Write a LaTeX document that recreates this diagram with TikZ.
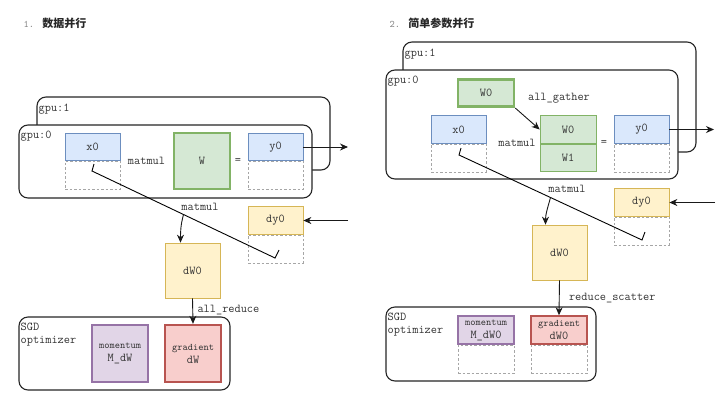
\documentclass[tikz,border=0pt]{standalone}
\usepackage{fontspec}
\newfontfamily\cjk{Noto Sans CJK SC}
\usetikzlibrary{arrows.meta,positioning}
\definecolor{actfill}{HTML}{DAE8FC}
\definecolor{actdraw}{HTML}{6C8EBF}
\definecolor{wfill}{HTML}{D5E8D4}
\definecolor{wdraw}{HTML}{82B366}
\definecolor{gfill}{HTML}{FFF2CC}
\definecolor{gdraw}{HTML}{D6B656}
\definecolor{mfill}{HTML}{E1D5E7}
\definecolor{mdraw}{HTML}{9673A6}
\definecolor{rfill}{HTML}{F8CECC}
\definecolor{rdraw}{HTML}{B85450}

\begin{document}
\begin{tikzpicture}[x=1pt,y=-1pt,
    every node/.style={font=\ttfamily\fontsize{12}{13}\selectfont, text=black!80},
    gpubox/.style={draw=black!85, line width=1.1pt, rounded corners=9pt, fill=white, inner sep=0pt},
    tensor/.style={line width=0.7pt, minimum width=55pt, minimum height=27.5pt, inner sep=0pt},
    act/.style={tensor, fill=actfill, draw=actdraw},
    wgt/.style={tensor, fill=wfill, draw=wdraw},
    grd/.style={tensor, fill=gfill, draw=gdraw},
    momb/.style={tensor, fill=mfill, draw=mdraw, line width=2.4pt, align=center},
    gradb/.style={tensor, fill=rfill, draw=rdraw, line width=2.4pt, align=center},
    shade/.style={draw=gray!70, dash pattern=on 2.5pt off 2pt, line width=0.7pt, minimum width=55pt, minimum height=28pt, inner sep=0pt},
    arr/.style={-{Stealth[length=8pt,width=7pt]}, line width=0.9pt, draw=black!90}]
  \useasboundingbox (0,0) rectangle (720,405);

  % 1. data parallel
  \node[anchor=west] (title1) at (20,23) {{\fontsize{10}{11}\selectfont\color{gray}1.} {\cjk\bfseries\fontsize{11}{13}\selectfont\color{black!85}数据并行}};
  \node[gpubox, minimum width=293pt, minimum height=73pt] (g1a) at (183.5,133.5) {};
  \node[anchor=north west, inner sep=0pt] at ([shift={(2pt,-7pt)}]g1a.north west) {gpu:1};
  \node[gpubox, minimum width=293pt, minimum height=73pt] (g0a) at (165.5,161.5) {};
  \node[anchor=north west, inner sep=0pt] at ([shift={(2pt,-6pt)}]g0a.north west) {gpu:0};
  \node[act] (x0a) at (92.5,147) {x0};
  \node[shade, below=0pt of x0a] (x0as) {};
  \node (mma) at (146.5,161) {matmul};
  \node[wgt, minimum width=56pt, minimum height=56pt, line width=2.6pt] (wa) at (202,161) {W};
  \node (eqa) at (238,161) {=};
  \node[act] (y0a) at (275.5,147) {y0};
  \node[shade, below=0pt of y0a] (y0as) {};
  \coordinate (outa) at (348,147);
  \draw[arr] (y0a.east) -- (outa);

  \node[grd] (dy0a) at (275.5,220.5) {dy0};
  \node[shade, below=0pt of dy0a] (dy0as) {};
  \coordinate (ina) at (348,220.5);
  \draw[arr] (ina) -- (dy0a.east);

  \coordinate (ta1) at (94,164);
  \coordinate (ta2) at (92,171);
  \coordinate (ta3) at (275,258);
  \coordinate (ta4) at (279,250);
  \draw[line width=0.9pt] (ta1) -- (ta2) -- (ta3) -- (ta4);
  \path (ta2) -- (ta3) coordinate[pos=0.5] (mida);
  \node (mmb) at (200,207) {matmul};

  \node[grd, minimum width=55pt, minimum height=55pt] (dwa) at (192.5,270.5) {dW0};
  \draw[arr] (mida) to[out=-105,in=90] ([xshift=-12pt]dwa.north);

  \node[gpubox, minimum width=211pt, minimum height=73pt] (opta) at (124.5,353.5) {};
  \node[anchor=north west, inner sep=0pt, align=left] at ([shift={(2pt,-6pt)}]opta.north west) {SGD\\optimizer};
  \node[momb, minimum width=56pt, minimum height=57pt] (moma) at (120,353.5) {\fontsize{10}{13}\selectfont momentum\\M\_dW};
  \node[gradb, minimum width=56pt, minimum height=57pt] (grada) at (193,353.5) {\fontsize{10}{13}\selectfont gradient\\dW};
  \draw[arr] (dwa.south) -- (grada.north) node[midway, right=1pt, yshift=1pt] {all\_reduce};

  % 2. simple parameter parallel
  \node[anchor=west] (title2) at (386,23) {{\fontsize{10}{11}\selectfont\color{gray}2.} {\cjk\bfseries\fontsize{11}{13}\selectfont\color{black!85}简单参数并行}};
  \node[gpubox, minimum width=293pt, minimum height=110pt] (g1b) at (549.5,97) {};
  \node[anchor=north west, inner sep=0pt] at ([shift={(2pt,-7pt)}]g1b.north west) {gpu:1};
  \node[gpubox, minimum width=292pt, minimum height=109pt] (g0b) at (532,124.5) {};
  \node[anchor=north west, inner sep=0pt] at ([shift={(2pt,-6pt)}]g0b.north west) {gpu:0};
  \node[wgt, minimum width=56pt, line width=2.6pt] (w0b) at (486,93) {W0};
  \node (agb) at (559,98) {all\_gather};
  \node[act] (x0b) at (458.5,129.5) {x0};
  \node[shade, below=0pt of x0b] (x0bs) {};
  \node (mmc) at (517,143) {matmul};
  \node[wgt, minimum width=56pt] (wab) at (568,129.5) {W0};
  \node[wgt, minimum width=56pt, below=0pt of wab] (wbb) {W1};
  \draw[arr] (w0b.south east) -- (wab.west);
  \node (eqb) at (604,143) {=};
  \node[act] (y0b) at (641.5,129.5) {y0};
  \node[shade, below=0pt of y0b] (y0bs) {};
  \coordinate (outb) at (714,129.5);
  \draw[arr] (y0b.east) -- (outb);

  \node[grd] (dy0b) at (641.5,202.5) {dy0};
  \node[shade, below=0pt of dy0b] (dy0bs) {};
  \coordinate (inb) at (715,202.5);
  \draw[arr] (inb) -- (dy0b.east);

  \coordinate (tb1) at (461,148);
  \coordinate (tb2) at (459,155);
  \coordinate (tb3) at (642,240);
  \coordinate (tb4) at (645,232);
  \draw[line width=0.9pt] (tb1) -- (tb2) -- (tb3) -- (tb4);
  \path (tb2) -- (tb3) coordinate[pos=0.5] (midb);
  \node (mmd) at (567,189) {matmul};

  \node[grd, minimum width=55pt, minimum height=55pt] (dwb) at (559.5,252.5) {dW0};
  \draw[arr] (midb) to[out=-105,in=90] ([xshift=-14pt]dwb.north);

  \node[gpubox, minimum width=210pt, minimum height=74pt] (optb) at (491,344) {};
  \node[anchor=north west, inner sep=0pt, align=left] at ([shift={(2pt,-6pt)}]optb.north west) {SGD\\optimizer};
  \node[momb, minimum width=56pt, line width=2pt] (momb1) at (486,330) {\fontsize{10}{13}\selectfont momentum\\M\_dW0};
  \node[shade, minimum width=56pt, below=0pt of momb1] (mombs) {};
  \node[gradb, minimum width=56pt, line width=2pt] (gradb1) at (559,330) {\fontsize{10}{13}\selectfont gradient\\dW0};
  \node[shade, minimum width=56pt, below=0pt of gradb1] (gradbs) {};
  \draw[arr] (dwb.south) -- (gradb1.north) node[midway, right=6pt, yshift=0pt] {reduce\_scatter};
\end{tikzpicture}
\end{document}
